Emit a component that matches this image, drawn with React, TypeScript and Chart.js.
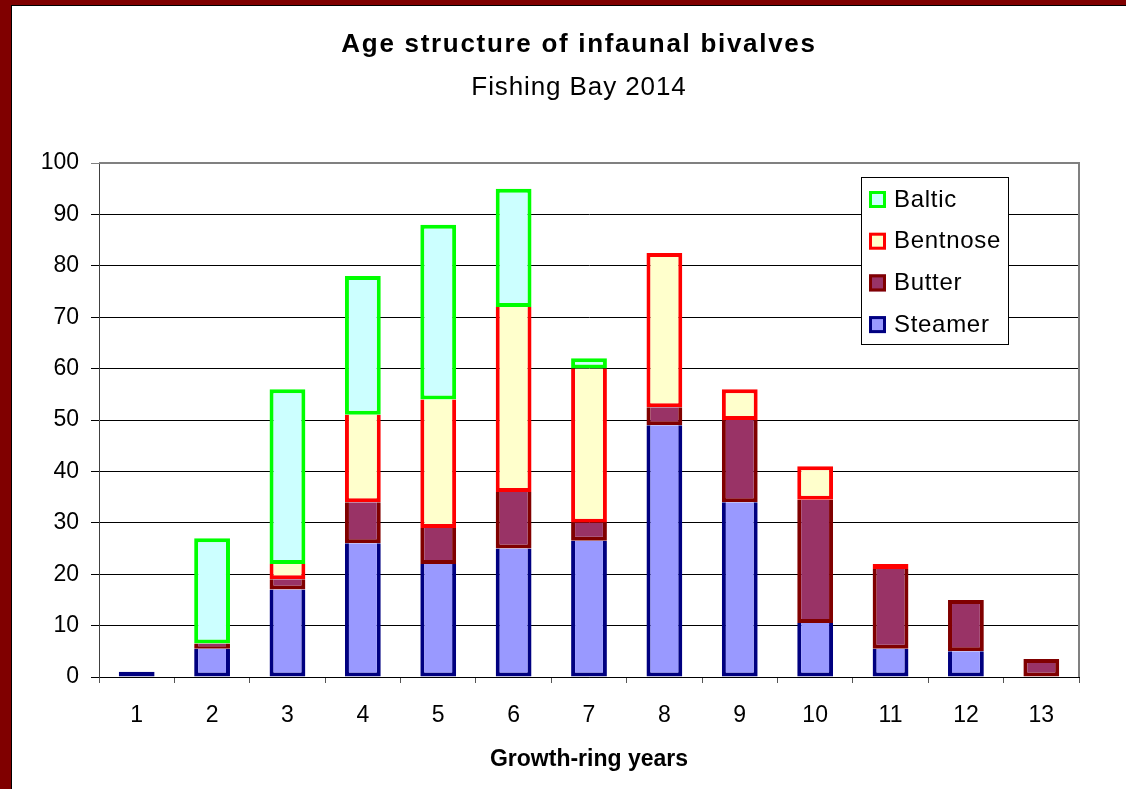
import React, { useEffect, useRef } from 'react';
import { Chart, registerables } from 'chart.js';

Chart.register(...registerables);

const categories = ['1', '2', '3', '4', '5', '6', '7', '8', '9', '10', '11', '12', '13'];
const steamer = [1, 5.5, 17, 26, 22, 25, 26.5, 49, 34, 10.5, 5.5, 5, 0];
const butter = [0, 1, 2, 8, 7, 11, 3.5, 3.5, 16, 24, 15.5, 10, 3.5];
const bentnose = [0, 0, 3, 17, 25, 36, 30, 30, 6, 6.5, 1, 0, 0];
const baltic = [0, 20.5, 34, 27, 34, 23, 2, 0, 0, 0, 0, 0, 0];
const yMin = 0;
const yMax = 100;
const yStep = 10;

const TITLE = 'Age structure of infaunal bivalves';
const SUBTITLE = 'Fishing Bay 2014';
const X_TITLE = 'Growth-ring years';
const FONT = '"Liberation Sans", Arial, Helvetica, sans-serif';
const BW = 4;

const seriesList = [
  { label: 'Steamer', data: steamer, fill: '#9999FF', stroke: '#000080' },
  { label: 'Butter', data: butter, fill: '#993366', stroke: '#800000' },
  { label: 'Bentnose', data: bentnose, fill: '#FFFFCC', stroke: '#FF0000' },
  { label: 'Baltic', data: baltic, fill: '#CCFFFF', stroke: '#00FF00' },
];

const titlePlugin = {
  id: 'titles',
  afterDraw(chart: any) {
    const { ctx, width } = chart;
    ctx.save();
    ctx.fillStyle = '#000';
    ctx.textAlign = 'center';
    ctx.textBaseline = 'alphabetic';
    ctx.font = `bold 26px ${FONT}`;
    (ctx as any).letterSpacing = '1.7px';
    ctx.fillText(TITLE, width / 2 + 10, 46);
    ctx.font = `26px ${FONT}`;
    (ctx as any).letterSpacing = '0.9px';
    ctx.fillText(SUBTITLE, width / 2 + 10, 89);
    (ctx as any).letterSpacing = '0px';
    ctx.restore();
  },
};

const framePlugin = {
  id: 'plotFrame',
  beforeDatasetsDraw(chart: any) {
    const { ctx, chartArea } = chart;
    ctx.save();
    ctx.strokeStyle = '#808080';
    ctx.lineWidth = 2;
    ctx.beginPath();
    ctx.moveTo(chartArea.left, chartArea.top);
    ctx.lineTo(chartArea.right, chartArea.top);
    ctx.lineTo(chartArea.right, chartArea.bottom);
    ctx.stroke();
    ctx.restore();
  },
};

const legendPlugin = {
  id: 'boxLegend',
  afterDraw(chart: any) {
    const { ctx, chartArea } = chart;
    const boxW = 148;
    const boxH = 168;
    const x = chartArea.right - 70 - boxW;
    const y = chartArea.top + 14;
    ctx.save();
    ctx.fillStyle = '#fff';
    ctx.fillRect(x, y, boxW, boxH);
    ctx.strokeStyle = '#000';
    ctx.lineWidth = 1;
    ctx.strokeRect(x + 0.5, y + 0.5, boxW - 1, boxH - 1);
    const items = chart.data.datasets.slice().reverse();
    items.forEach((ds: any, k: number) => {
      const cy = y + 22 + k * 41.7;
      const sx = x + 8;
      const sy = cy - 8;
      ctx.fillStyle = ds.backgroundColor;
      ctx.fillRect(sx, sy, 17, 17);
      ctx.strokeStyle = ds.legendStroke;
      ctx.lineWidth = 3;
      ctx.strokeRect(sx + 1.5, sy + 1.5, 14, 14);
      ctx.fillStyle = '#000';
      ctx.font = `24px ${FONT}`;
      (ctx as any).letterSpacing = '0.7px';
      ctx.textAlign = 'left';
      ctx.textBaseline = 'middle';
      ctx.fillText(ds.label, x + 33, cy + 1);
      (ctx as any).letterSpacing = '0px';
    });
    ctx.restore();
  },
};

export default function App() {
  const ref = useRef<HTMLCanvasElement | null>(null);

  useEffect(() => {
    if (!ref.current) return;
    Chart.defaults.font.family = FONT;
    const chart = new Chart(ref.current, {
      type: 'bar',
      data: {
        labels: categories,
        datasets: seriesList.map((s, i) => ({
          label: s.label,
          data: s.data,
          backgroundColor: s.fill,
          borderColor: s.stroke,
          legendStroke: s.stroke,
          borderSkipped: false,
          borderWidth: (c: any) => {
            if (c.dataIndex === undefined) return BW;
            const j = c.dataIndex;
            const isTop = seriesList.slice(i + 1).every((o) => !o.data[j]);
            return { top: isTop ? BW : 0, bottom: BW, left: BW, right: BW };
          },
          barPercentage: 0.475,
          categoryPercentage: 1,
        })) as any,
      },
      options: {
        animation: false,
        responsive: true,
        maintainAspectRatio: false,
        devicePixelRatio: 1,
        layout: { padding: { top: 157, right: 47, left: 0, bottom: 0 } },
        plugins: {
          legend: { display: false },
          title: { display: false },
          tooltip: { enabled: false },
        },
        scales: {
          x: {
            stacked: true,
            grid: {
              offset: true,
              drawOnChartArea: false,
              drawTicks: true,
              tickLength: 6,
              color: '#555',
            },
            border: { color: '#000', width: 1 },
            ticks: {
              color: '#000',
              font: { size: 23 },
              padding: 19,
              maxRotation: 0,
              autoSkip: false,
            },
            title: {
              display: true,
              text: X_TITLE,
              color: '#000',
              font: { size: 23, weight: 'bold' },
              padding: { top: 0, bottom: 16 },
            },
            afterFit: (s: any) => {
              s.height = 112;
            },
          },
          y: {
            stacked: true,
            min: yMin,
            max: yMax,
            ticks: {
              stepSize: yStep,
              color: '#000',
              font: { size: 23 },
              padding: 12,
            },
            grid: {
              color: (c: any) => (c.tick && c.tick.value === yMax ? '#808080' : '#000'),
              tickLength: 8,
              lineWidth: 1,
            },
            border: { color: '#404040', width: 1 },
            afterFit: (s: any) => {
              s.width = 87;
            },
          },
        },
      } as any,
      plugins: [framePlugin, legendPlugin, titlePlugin],
    });
    return () => chart.destroy();
  }, []);

  return (
    <div
      style={{
        position: 'fixed',
        left: 0,
        top: 0,
        width: 1126,
        height: 789,
        background: '#800000',
        overflow: 'hidden',
      }}
    >
      <div
        style={{
          position: 'absolute',
          left: 11,
          top: 5,
          right: 0,
          bottom: 0,
          background: '#fff',
          borderLeft: '1px solid #000',
          borderTop: '1px solid #000',
        }}
      >
        <div style={{ position: 'relative', width: 1114, height: 783 }}>
          <canvas ref={ref} />
        </div>
      </div>
    </div>
  );
}
